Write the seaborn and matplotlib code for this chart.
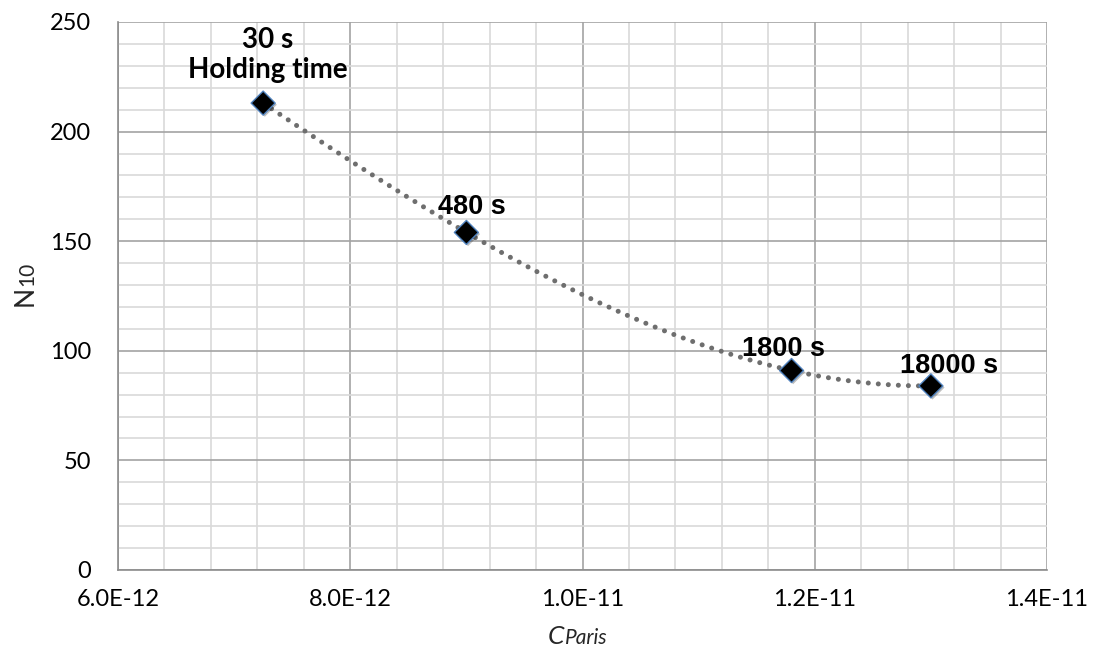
import numpy as np
import pandas as pd
import matplotlib
matplotlib.use("Agg")
import matplotlib.pyplot as plt
import matplotlib.patheffects as pe
from matplotlib.ticker import FixedLocator, MultipleLocator, FuncFormatter
import seaborn as sns

# Paris-law coefficient vs. N10 for each holding time
c_paris = [7.25e-12, 9.0e-12, 1.18e-11, 1.30e-11]
n10 = [213, 154, 91, 84]
hold_labels = ["30 s\nHolding time", "480 s", "1800 s", "18000 s"]

x_ticks = [6e-12, 8e-12, 1.0e-11, 1.2e-11, 1.4e-11]
y_ticks = [0, 50, 100, 150, 200, 250]

df = pd.DataFrame({"C": c_paris, "N10": n10, "label": hold_labels})

sns.set_theme(style="white")
plt.rcParams["font.family"] = ["Lato", "DejaVu Sans"]

fig = plt.figure(figsize=(10.93, 6.55), dpi=100)
ax = fig.add_axes([118 / 1093, 85 / 655, 929 / 1093, 548 / 655])

# polynomial trendline through the measurements
coef = np.polyfit(df["C"] / 1e-12, df["N10"], 3)
xs = np.linspace(df["C"].min(), df["C"].max(), 300)
trend = pd.DataFrame({"C": xs, "N10": np.polyval(coef, xs / 1e-12)})
sns.lineplot(data=trend, x="C", y="N10", ax=ax, color="#6e6e6e",
             linewidth=3.6, linestyle=(0, (0.01, 2.0)),
             dash_capstyle="round", zorder=3)

sns.scatterplot(data=df, x="C", y="N10", ax=ax, marker="D", s=150,
                color="black", edgecolor="#4f81bd", linewidth=1.0, zorder=4,
                path_effects=[pe.SimplePatchShadow(offset=(1.2, -1.2),
                                                   alpha=0.25), pe.Normal()])

# data labels
label_style = [
    dict(offset=(3, 18), family=["Lato"], size=20),
    dict(offset=(3.6, 13), family=["Liberation Sans"], size=19.5),
    dict(offset=(-5.8, 10.8), family=["Liberation Sans"], size=19.5),
    dict(offset=(13, 9.4), family=["Liberation Sans"], size=19.5),
]
for (_, row), st in zip(df.iterrows(), label_style):
    ax.annotate(row["label"], xy=(row["C"], row["N10"]), xytext=st["offset"],
                textcoords="offset points", ha="center", va="baseline",
                fontweight="bold", fontsize=st["size"], family=st["family"],
                linespacing=1.2, color="black", zorder=5)

# axes, ticks and grid
ax.set_xlim(x_ticks[0], x_ticks[-1])
ax.set_ylim(y_ticks[0], y_ticks[-1])
ax.xaxis.set_major_locator(FixedLocator(x_ticks))
ax.xaxis.set_minor_locator(MultipleLocator(4e-13))
ax.yaxis.set_major_locator(FixedLocator(y_ticks))
ax.yaxis.set_minor_locator(MultipleLocator(10))
ax.xaxis.set_major_formatter(FuncFormatter(lambda v, p: f"{v:.1E}"))

ax.grid(which="major", color="#a3a3a3", linewidth=1.2)
ax.grid(which="minor", color="#d9d9d9", linewidth=1.2)
ax.set_axisbelow(True)

for side in ["top", "right"]:
    ax.spines[side].set_visible(False)
for side in ["left", "bottom"]:
    ax.spines[side].set_color("#8c8c8c")
    ax.spines[side].set_linewidth(1.2)

ax.tick_params(which="major", direction="out", length=7.5, width=1.2,
               color="#8c8c8c", labelsize=17, labelcolor="black")
ax.tick_params(axis="x", which="major", pad=6)
ax.tick_params(axis="y", which="major", pad=12)
ax.tick_params(which="minor", length=0)
ax.set_xlabel("")
ax.set_ylabel("")

# axis titles with smaller trailing characters on a shared baseline
renderer = fig.canvas.get_renderer()
W, H = fig.get_size_inches() * fig.dpi

c_txt = fig.text(548 / W, 11 / H, "C", fontsize=19, style="italic",
                 ha="left", va="baseline")
cw = c_txt.get_window_extent(renderer).width
fig.text((548 + cw) / W, 11 / H, "Paris", fontsize=15, style="italic",
         ha="left", va="baseline")

n_txt = fig.text(33 / W, 349 / H, "N", fontsize=19, rotation=90,
                 ha="left", va="baseline", rotation_mode="anchor")
nh = n_txt.get_window_extent(renderer).height
fig.text(33 / W, (349 + nh) / H, "10", fontsize=15, rotation=90,
         ha="left", va="baseline", rotation_mode="anchor")

fig.savefig("out.png", dpi=100)
